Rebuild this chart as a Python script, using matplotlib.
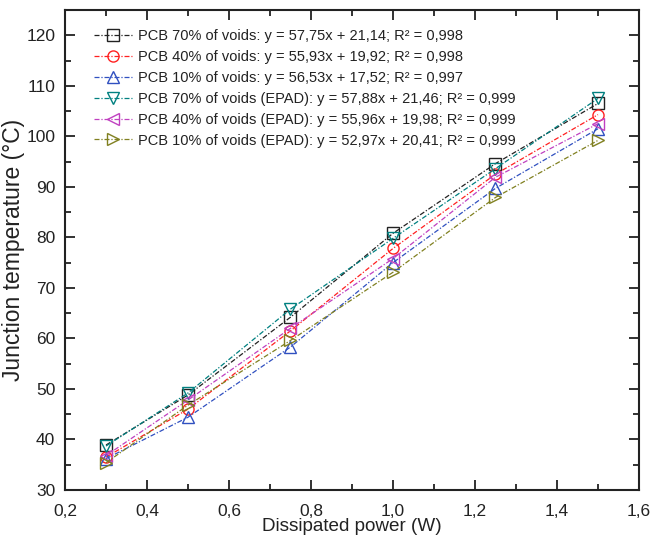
import matplotlib
matplotlib.use("Agg")
import matplotlib.pyplot as plt
from matplotlib.ticker import MultipleLocator, FuncFormatter

plt.rcParams['font.family'] = ['Liberation Sans', 'DejaVu Sans']

power = [0.3, 0.5, 0.75, 1.0, 1.25, 1.5]
pcb70 = [38.9, 48.8, 64.2, 80.8, 94.6, 106.5]
pcb40 = [36.5, 46.0, 61.5, 77.8, 92.5, 104.3]
pcb10 = [36.2, 44.4, 58.3, 75.0, 89.7, 101.5]
pcb70_epad = [38.7, 49.2, 65.8, 79.8, 93.6, 107.5]
pcb40_epad = [36.8, 47.8, 62.0, 75.8, 91.9, 102.5]
pcb10_epad = [35.4, 46.8, 59.6, 73.1, 87.9, 99.2]

labels = [
    "PCB 70% of voids: y = 57,75x + 21,14; R² = 0,998",
    "PCB 40% of voids: y = 55,93x + 19,92; R² = 0,998",
    "PCB 10% of voids: y = 56,53x + 17,52; R² = 0,997",
    "PCB 70% of voids (EPAD): y = 57,88x + 21,46; R² = 0,999",
    "PCB 40% of voids (EPAD): y = 55,96x + 19,98; R² = 0,999",
    "PCB 10% of voids (EPAD): y = 52,97x + 20,41; R² = 0,999",
]
series = [pcb70, pcb40, pcb10, pcb70_epad, pcb40_epad, pcb10_epad]
colors = ["#222222", "#ff2020", "#3050c0", "#008080", "#c040c0", "#808020"]
markers = ["s", "o", "^", "v", "<", ">"]

fig = plt.figure(figsize=(6.52, 5.48), dpi=100)
ax = fig.add_axes([65/652, 1 - 490/548, (639-65)/652, (490-10)/548])

for ys, c, m, lab in zip(series, colors, markers, labels):
    ax.plot(power, ys, color=c, linestyle=(0, (4, 1.5, 1, 1.5)), linewidth=0.9,
            marker=m, markersize=8, markerfacecolor="none", markeredgecolor=c,
            markeredgewidth=1.0, label=lab)

ax.set_xlim(0.2, 1.6)
ax.set_ylim(30, 125)
ax.xaxis.set_major_locator(MultipleLocator(0.2))
ax.xaxis.set_minor_locator(MultipleLocator(0.1))
ax.yaxis.set_major_locator(MultipleLocator(10))
ax.yaxis.set_minor_locator(MultipleLocator(5))
ax.xaxis.set_major_formatter(FuncFormatter(lambda v, p: f"{v:.1f}".replace(".", ",")))
ax.yaxis.set_major_formatter(FuncFormatter(lambda v, p: f"{int(round(v))}"))
ax.tick_params(which="both", direction="in", top=True, right=True, width=1.3,
               labelsize=12.5, colors="#222222")
ax.tick_params(which="major", length=7)
ax.tick_params(which="minor", length=4)
ax.tick_params(axis="x", which="major", pad=10)
ax.tick_params(axis="y", which="major", pad=7)
for s in ax.spines.values():
    s.set_linewidth(1.5)
    s.set_color("#222222")

ax.set_xlabel("Dissipated power (W)", fontsize=13.6, color="#222222", labelpad=-0.5)
ax.set_ylabel("Junction temperature (°C)", fontsize=16.5, color="#222222", labelpad=1)

leg = ax.legend(loc="upper left", frameon=False, fontsize=10.5, handlelength=2.6,
                handletextpad=0.4, labelspacing=0.47, borderaxespad=0.2,
                bbox_to_anchor=(0.035, 0.978))
for t in leg.get_texts():
    t.set_color("#222222")

fig.savefig("out.png", dpi=100)
